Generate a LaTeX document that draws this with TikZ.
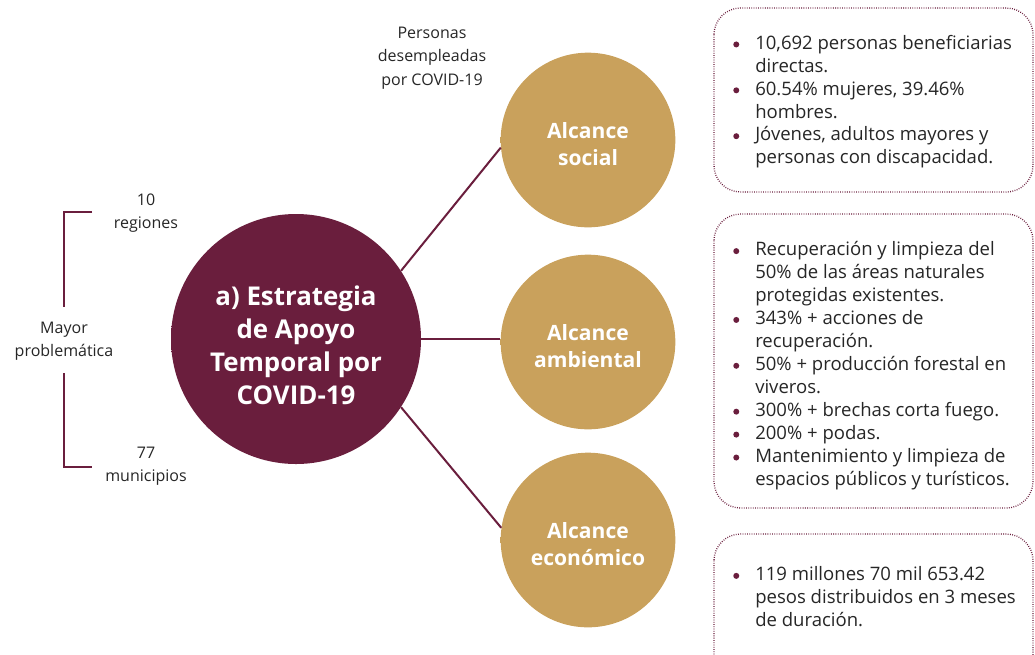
\documentclass[tikz,border=0pt]{standalone}
\usepackage{fontspec}
\setmainfont{Open Sans}
\usepackage{xcolor}
\definecolor{guinda}{HTML}{6A1E3D}
\definecolor{dorado}{HTML}{C9A15C}
\definecolor{gristexto}{HTML}{262626}
\usepackage{tikz}
\usetikzlibrary{positioning}
\pgfdeclareradialshading{guindashade}{\pgfpoint{0bp}{0bp}}{%
  color(0bp)=(guinda); color(44bp)=(guinda); color(50bp)=(guinda!82!black)}
\pgfdeclareradialshading{doradoshade}{\pgfpoint{0bp}{0bp}}{%
  color(0bp)=(dorado); color(44bp)=(dorado); color(50bp)=(dorado!85!black)}
\tikzset{
  mainball/.style={circle, shade, shading=guindashade, minimum size=187.5pt, inner sep=0pt},
  maintext/.style={text=white, align=center, inner sep=0pt, yshift=-5pt,
                   font=\fontsize{19.4}{24.75}\selectfont\bfseries},
  goldball/.style={circle, shade, shading=doradoshade, minimum size=131pt, inner sep=0pt},
  goldtext/.style={text=white, align=center, inner sep=0pt, yshift=-3pt,
                   font=\fontsize{15.8}{20.6}\selectfont\bfseries},
  link/.style    ={draw=guinda, line width=1.5pt},
  brace/.style   ={draw=guinda, line width=1.5pt},
  side/.style    ={font=\fontsize{12}{17.6}\selectfont, text=gristexto, align=center, inner sep=0pt},
  dotbox/.style  ={draw=guinda, line width=1pt, dash pattern=on 0.6pt off 1.1pt,
                   rounded corners=20pt},
  bullets/.style ={font=\fontsize{13.9}{17.2}\selectfont, text=gristexto, inner sep=0pt, anchor=west},
}
\newcommand{\punto}{\tikz[baseline=0pt]\fill[guinda] (2.25pt,3.6pt) circle (2.25pt);}

\begin{document}
\begin{tikzpicture}[x=0.75pt, y=-0.75pt]
  \useasboundingbox (0,0) rectangle (1035,654);
  \clip (0,0) rectangle (1035,654);

  \node[mainball] (est) at (296,339) {};
  \node[maintext] (esttxt) at (est.center) {a) Estrategia\\de Apoyo\\Temporal por\\COVID-19};
  \node[goldball, label={[goldtext]center:Alcance\\social}]    (soc) at (588,140) {};
  \node[goldball, label={[goldtext]center:Alcance\\ambiental}] (amb) at (588,342) {};
  \node[goldball, label={[goldtext]center:Alcance\\económico}] (eco) at (588,540) {};

  \draw[link] (est.33)   -- (soc.185);
  \draw[link] (est.east) -- (est.east -| amb.west);
  \draw[link] (est.-33)  -- (eco.172);

  % corchete izquierdo
  \coordinate (b1) at (92,212);
  \coordinate (b2) at (64,307);
  \coordinate (b3) at (64,373);
  \coordinate (b4) at (92,467);
  \draw[brace] (b1) -| (b2);
  \draw[brace] (b3) |- (b4);

  \node[side] (reg)  at (146,213) {10\\regiones};
  \node[side] (prob) at (64,341)  {Mayor\\problemática};
  \node[side] (mun)  at (146,466) {77\\municipios};
  \node[side] (des)  at (432,58)  {Personas\\desempleadas\\por COVID-19};

  % cajas de resultados
  \draw[dotbox] (714,8)   rectangle (1033,192);
  \draw[dotbox] (714,214) rectangle (1033,508);
  \draw[dotbox] (714,534) rectangle (1033,700);

  \node[bullets] (lsoc) at (733,102) {\begin{tabular}{@{}p{16.5pt}@{}l@{}}
    \punto & 10,692 personas beneficiarias\\
           & directas.\\
    \punto & 60.54\% mujeres, 39.46\%\\
           & hombres.\\
    \punto & Jóvenes, adultos mayores y\\
           & personas con discapacidad.
  \end{tabular}};
  \node[bullets] (lamb) at (733,366) {\begin{tabular}{@{}p{16.5pt}@{}l@{}}
    \punto & Recuperación y limpieza del\\
           & 50\% de las áreas naturales\\
           & protegidas existentes.\\
    \punto & 343\% + acciones de\\
           & recuperación.\\
    \punto & 50\% + producción forestal en\\
           & viveros.\\
    \punto & 300\% + brechas corta fuego.\\
    \punto & 200\% + podas.\\
    \punto & Mantenimiento y limpieza de\\
           & espacios públicos y turísticos.
  \end{tabular}};
  \node[bullets] (leco) at (733,599) {\begin{tabular}{@{}p{16.5pt}@{}l@{}}
    \punto & 119 millones 70 mil 653.42\\
           & pesos distribuidos en 3 meses\\
           & de duración.
  \end{tabular}};
\end{tikzpicture}
\end{document}
